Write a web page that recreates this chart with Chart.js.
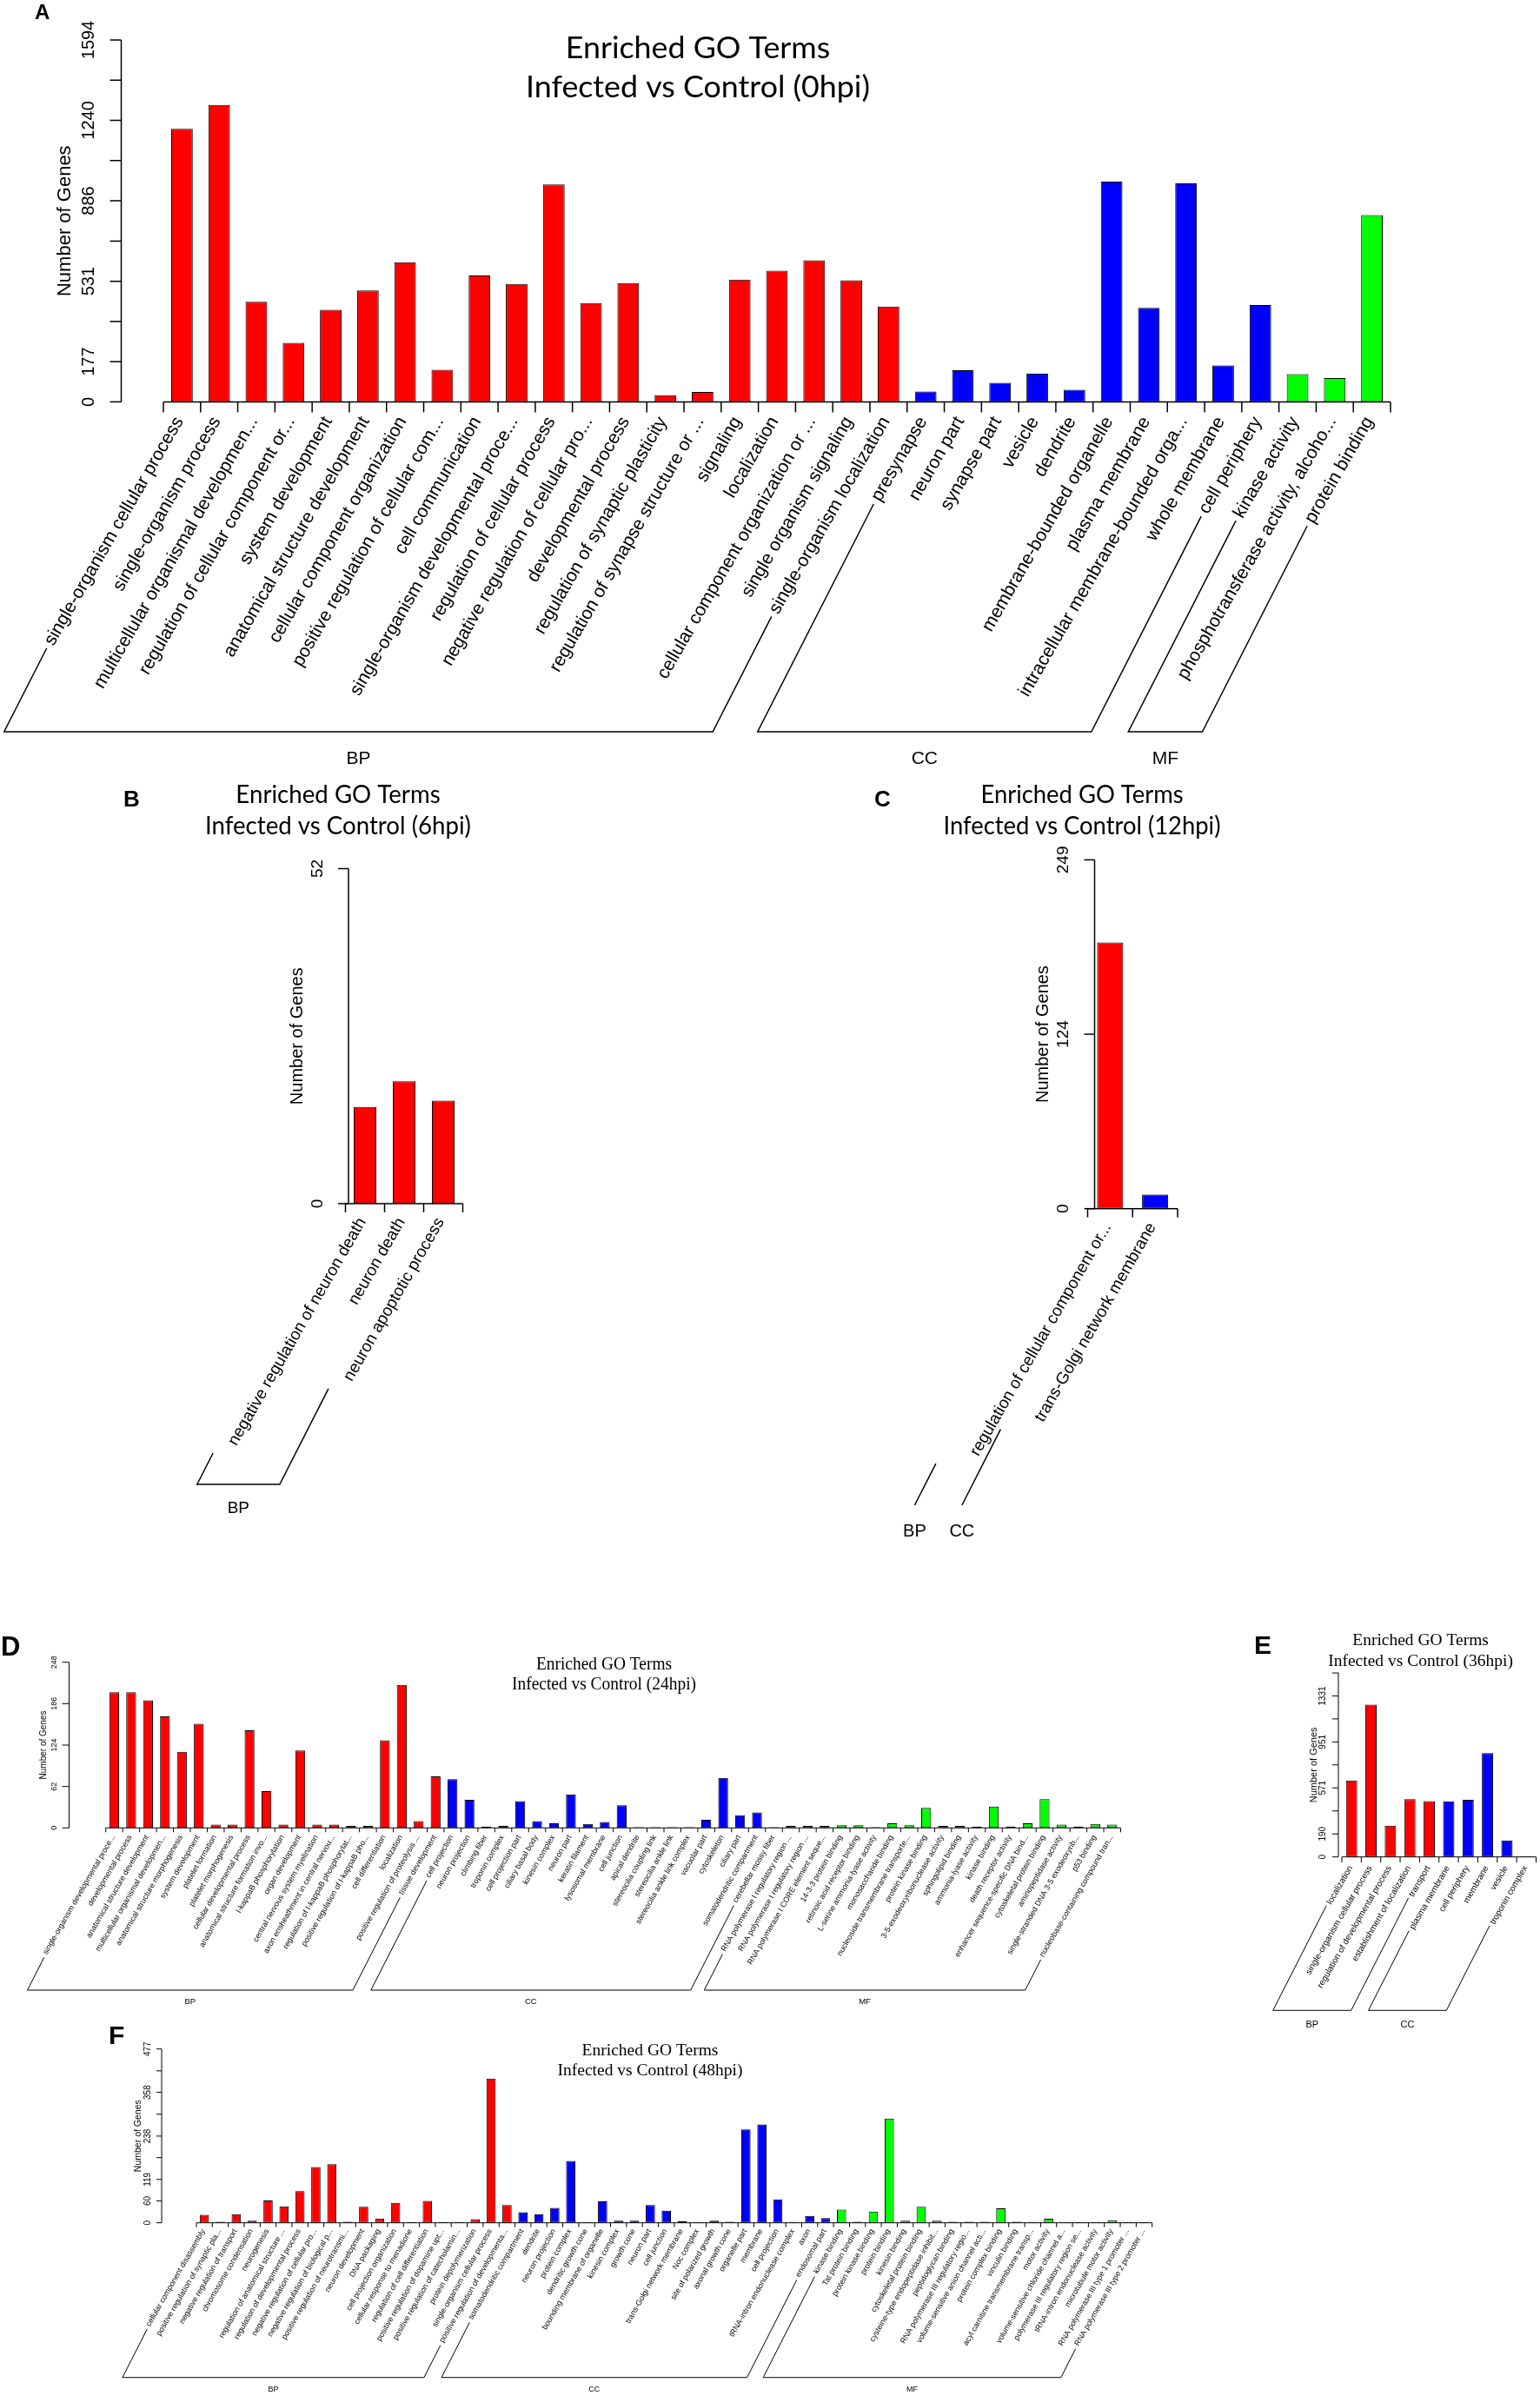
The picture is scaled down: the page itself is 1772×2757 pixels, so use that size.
<!DOCTYPE html>
<html>
<head>
<meta charset="utf-8">
<title>Enriched GO Terms - Infected vs Control</title>
<script src="https://cdn.jsdelivr.net/npm/chart.js@4.4.1/dist/chart.umd.min.js"></script>
<style>
  html, body { margin: 0; padding: 0; background: #fff; }
  #page { position: relative; width: 1772px; height: 2757px; overflow: hidden; background: #fff; }
  #page canvas { position: absolute; }
</style>
</head>
<body>
<div id="page"></div>
<script>
// DATA -
// A (0hpi)
const termsA = [
  'single-organism cellular process', 'single-organism process', 'multicellular organismal developmen...',
  'regulation of cellular component or...', 'system development', 'anatomical structure development',
  'cellular component organization', 'positive regulation of cellular com...', 'cell communication',
  'single-organism developmental proce...', 'regulation of cellular process', 'negative regulation of cellular pro...',
  'developmental process', 'regulation of synaptic plasticity', 'regulation of synapse structure or ...',
  'signaling', 'localization', 'cellular component organization or ...', 'single organism signaling',
  'single-organism localization',
  'presynapse', 'neuron part', 'synapse part', 'vesicle', 'dendrite', 'membrane-bounded organelle',
  'plasma membrane', 'intracellular membrane-bounded orga...', 'whole membrane', 'cell periphery',
  'kinase activity', 'phosphotransferase activity, alcoho...', 'protein binding'
];
const countsA = [1203, 1308, 441, 260, 405, 491, 615, 141, 557, 519, 958, 435, 523, 29, 44, 538, 578, 624, 536, 420,
  46, 139, 84, 124, 53, 970, 414, 962, 160, 426,
  122, 105, 823];
const groupsA = [['BP', 20], ['CC', 10], ['MF', 3]];
const yTicksA = [0, 177, 354, 531, 708, 886, 1063, 1240, 1417, 1594];
const yTickTextA = ['0', '177', '', '531', '', '886', '', '1240', '', '1594'];
const titleA = ['Enriched GO Terms', 'Infected vs Control (0hpi)'];

// B (6hpi)
const termsB = ['negative regulation of neuron death', 'neuron death', 'neuron apoptotic process'];
const countsB = [15, 19, 16];
const groupsB = [['BP', 3]];
const yTicksB = [0, 52];
const yTickTextB = ['0', '52'];
const titleB = ['Enriched GO Terms', 'Infected vs Control (6hpi)'];

// C (12hpi)
const termsC = ['regulation of cellular component or...', 'trans-Golgi network membrane'];
const countsC = [190, 10];
const groupsC = [['BP', 1], ['CC', 1]];
const yTicksC = [0, 124.5, 249];
const yTickTextC = ['0', '124', '249'];
const titleC = ['Enriched GO Terms', 'Infected vs Control (12hpi)'];

// D (24hpi)
const termsD = [
  'single-organism developmental proce...', 'developmental process', 'anatomical structure development',
  'multicellular organismal developmen...', 'anatomical structure morphogenesis', 'system development',
  'platelet formation', 'platelet morphogenesis', 'cellular developmental process',
  'anatomical structure formation invo...', 'I-kappaB phosphorylation', 'organ development',
  'central nervous system myelination', 'axon ensheathment in central nervou...',
  'regulation of I-kappaB phosphorylat...', 'positive regulation of I-kappaB pho...', 'cell differentiation',
  'localization', 'positive regulation of proteolysis ...', 'tissue development',
  'cell projection', 'neuron projection', 'climbing fiber', 'troponin complex', 'cell projection part',
  'ciliary basal body', 'kinesin complex', 'neuron part', 'keratin filament', 'lysosomal membrane',
  'cell junction', 'apical dendrite', 'stereocilia coupling link', 'stereocilia ankle link',
  'stereocilia ankle link complex', 'vacuolar part', 'cytoskeleton', 'ciliary part',
  'somatodendritic compartment', 'cerebellar mossy fiber',
  'RNA polymerase I regulatory region ...', 'RNA polymerase I regulatory region ...',
  'RNA polymerase I CORE element seque...', '14-3-3 protein binding', 'retinoic acid receptor binding',
  'L-serine ammonia-lyase activity', 'monosaccharide binding', 'nucleoside transmembrane transporte...',
  'protein kinase binding', '3-5-exodeoxyribonuclease activity', 'sphingolipid binding',
  'ammonia-lyase activity', 'kinase binding', 'death receptor activity',
  'enhancer sequence-specific DNA bind...', 'cytoskeletal protein binding', 'aminopeptidase activity',
  'single-stranded DNA 3-5 exodeoxyrib...', 'p53 binding', 'nucleobase-containing compound tran...'
];
const countsD = [203, 203, 191, 167, 114, 156, 5, 5, 146, 55, 5, 116, 5, 5, 3, 3, 131, 214, 10, 77,
  73, 42, 2, 3, 40, 10, 7, 50, 6, 9, 34, 1, 1, 1, 1, 12, 75, 19, 23, 1,
  3, 3, 3, 4, 4, 1, 7, 4, 30, 3, 3, 2, 32, 2, 7, 43, 5, 2, 6, 5];
const groupsD = [['BP', 20], ['CC', 20], ['MF', 20]];
const yTicksD = [0, 62, 124, 186, 248];
const yTickTextD = ['0', '62', '124', '186', '248'];
const titleD = ['Enriched GO Terms', 'Infected vs Control (24hpi)'];

// E (36hpi)
const termsE = ['localization', 'single-organism cellular process', 'regulation of developmental process',
  'establishment of localization', 'transport',
  'plasma membrane', 'cell periphery', 'membrane', 'vesicle', 'troponin complex'];
const countsE = [632, 1258, 259, 477, 462, 460, 472, 858, 137, 7];
const groupsE = [['BP', 5], ['CC', 5]];
const yTicksE = [0, 190, 380, 571, 761, 951, 1141, 1331, 1521];
const yTickTextE = ['0', '190', '', '571', '', '951', '', '1331', ''];
const titleE = ['Enriched GO Terms', 'Infected vs Control (36hpi)'];

// F (48hpi)
const termsF = [
  'cellular component disassembly', 'positive regulation of synaptic pla...', 'negative regulation of transport',
  'chromosome condensation', 'neurogenesis', 'regulation of anatomical structure ...',
  'regulation of developmental process', 'negative regulation of cellular pro...',
  'negative regulation of biological p...', 'positive regulation of neurotransmi...', 'neuron development',
  'DNA packaging', 'cell projection organization', 'cellular response to menadione',
  'regulation of cell differentiation', 'positive regulation of dopamine upt...',
  'positive regulation of catecholamin...', 'protein depolymerization', 'single-organism cellular process',
  'positive regulation of developmenta...',
  'somatodendritic compartment', 'dendrite', 'neuron projection', 'protein complex', 'dendritic growth cone',
  'bounding membrane of organelle', 'kinesin complex', 'growth cone', 'neuron part', 'cell junction',
  'trans-Golgi network membrane', 'Noc complex', 'site of polarized growth', 'axonal growth cone',
  'organelle part', 'membrane', 'cell projection', 'tRNA-intron endonuclease complex', 'axon', 'endosomal part',
  'kinase binding', 'Tat protein binding', 'protein kinase binding', 'protein binding', 'kinesin binding',
  'cytoskeletal protein binding', 'cysteine-type endopeptidase inhibit...', 'peptidoglycan binding',
  'RNA polymerase III regulatory regio...', 'volume-sensitive anion channel acti...', 'protein complex binding',
  'vinculin binding', 'acyl carnitine transmembrane transp...', 'motor activity',
  'volume-sensitive chloride channel a...', 'polymerase III regulatory region se...',
  'tRNA-intron endonuclease activity', 'microtubule motor activity',
  'RNA polymerase III type 1 promoter ...', 'RNA polymerase III type 2 promoter ...'
];
const countsF = [22, 3, 24, 6, 61, 45, 87, 153, 161, 3, 44, 12, 55, 2, 60, 2, 2, 10, 396, 49,
  29, 24, 41, 170, 2, 59, 6, 6, 49, 33, 4, 2, 6, 3, 256, 270, 64, 2, 19, 13,
  36, 3, 31, 286, 6, 44, 6, 3, 3, 3, 40, 3, 2, 11, 2, 2, 2, 7, 2, 2];
const groupsF = [['BP', 20], ['CC', 20], ['MF', 20]];
const yTicksF = [0, 60, 119, 179, 238, 298, 358, 417, 477];
const yTickTextF = ['0', '60', '119', '', '238', '', '358', '', '477'];
const titleF = ['Enriched GO Terms', 'Infected vs Control (48hpi)'];

const ontologyColors = { BP: '#ff0000', CC: '#0000ff', MF: '#00ff00' };
const yAxisTitle = 'Number of Genes';
// DATA |

// LAYOUT - page pixels
const SANS = '"Liberation Sans", Arial, sans-serif';
const TITLE_SANS = 'Lato, "Open Sans", sans-serif';
const SERIF = '"Liberation Serif", "Times New Roman", serif';

const panels = [
  { letter: 'A', terms: termsA, counts: countsA, groups: groupsA, ticks: yTicksA, tickText: yTickTextA, title: titleA,
    box: { x: 0, y: 0, w: 1772, h: 900 }, area: { l: 188, r: 1600, t: 46, b: 462.4 },
    yAxisX: 139.5, tickLabX: 102, yTitleX: 75, tickFont: 20, yTitleFont: 22, labFont: 21,
    tickLenY: 13, tickLenX: 12, labDx: -3, labDy: 19, lw: 1.5,
    bracketY: 842, groupY: 873, groupFont: 21, bracketOff: [0, 0],
    titleFont: '34px ' + TITLE_SANS, titleX: 803, titleBase: [67, 112], titleWidth: 396,
    letterX: 40, letterY: 22, letterFont: 24 },
  { letter: 'B', terms: termsB, counts: countsB, groups: groupsB, ticks: yTicksB, tickText: yTickTextB, title: titleB,
    box: { x: 100, y: 880, w: 600, h: 900 }, area: { l: 397.5, r: 532.5, t: 999.5, b: 1385 },
    yAxisX: 401, tickLabX: 366, yTitleX: 342, tickFont: 19, yTitleFont: 20, labFont: 19,
    tickLenY: 12, tickLenX: 10, labDx: -3, labDy: 18, lw: 1.5,
    bracketY: 1708, groupY: 1736, groupFont: 19, bracketOff: [-20, 6],
    titleFont: '28px ' + TITLE_SANS, titleX: 389, titleBase: [924, 960], titleWidth: 306,
    letterX: 142, letterY: 928, letterFont: 26 },
  { letter: 'C', terms: termsC, counts: countsC, groups: groupsC, ticks: yTicksC, tickText: yTickTextC, title: titleC,
    box: { x: 980, y: 880, w: 520, h: 900 }, area: { l: 1251.5, r: 1355, t: 989.4, b: 1390.7 },
    yAxisX: 1259.5, tickLabX: 1224, yTitleX: 1200, tickFont: 19, yTitleFont: 20, labFont: 19,
    tickLenY: 12, tickLenX: 10, labDx: -3, labDy: 18, lw: 1.5,
    bracketY: 1732, groupY: 1762, groupFont: 20, bracketOff: [-42, 6],
    titleFont: '28px ' + TITLE_SANS, titleX: 1245, titleBase: [924, 960], titleWidth: 319,
    letterX: 1006, letterY: 928, letterFont: 26 },
  { letter: 'D', terms: termsD, counts: countsD, groups: groupsD, ticks: yTicksD, tickText: yTickTextD, title: titleD,
    box: { x: 0, y: 1860, w: 1400, h: 470 }, area: { l: 121.7, r: 1289.5, t: 1912.7, b: 2103.3 },
    yAxisX: 79.5, tickLabX: 62.5, yTitleX: 50, tickFont: 9, yTitleFont: 10, labFont: 9,
    tickLenY: 8, tickLenX: 5, labDx: -1, labDy: 9, lw: 1,
    bracketY: 2290, groupY: 2303, groupFont: 9.5, bracketOff: [0, 2],
    titleFont: '20px ' + SERIF, titleX: 695, titleBase: [1920.7, 1944], titleWidth: 212,
    letterX: 1, letterY: 1905, letterFont: 31 },
  { letter: 'E', terms: termsE, counts: countsE, groups: groupsE, ticks: yTicksE, tickText: yTickTextE, title: titleE,
    box: { x: 1420, y: 1860, w: 352, h: 490 }, area: { l: 1544, r: 1767.5, t: 1925, b: 2136.7 },
    yAxisX: 1540, tickLabX: 1522.7, yTitleX: 1511.7, tickFont: 10, yTitleFont: 11, labFont: 10,
    tickLenY: 7, tickLenX: 6.5, labDx: -1, labDy: 11, lw: 1,
    bracketY: 2313.3, groupY: 2330, groupFont: 11, bracketOff: [-2, 0],
    titleFont: '19px ' + SERIF, titleX: 1634.6, titleBase: [1893.3, 1916.7], titleWidth: 212.7,
    letterX: 1443, letterY: 1903, letterFont: 30 },
  { letter: 'F', terms: termsF, counts: countsF, groups: groupsF, ticks: yTicksF, tickText: yTickTextF, title: titleF,
    box: { x: 100, y: 2320, w: 1272, h: 437 }, area: { l: 226, r: 1325.7, t: 2357.7, b: 2557.7 },
    yAxisX: 186, tickLabX: 170, yTitleX: 159.3, tickFont: 10, yTitleFont: 10.5, labFont: 9,
    tickLenY: 6, tickLenX: 5, labDx: -1, labDy: 8, lw: 1,
    bracketY: 2735.7, groupY: 2750, groupFont: 9, bracketOff: [0, 2],
    titleFont: '19px ' + SERIF, titleX: 748, titleBase: [2365, 2388.3], titleWidth: 213,
    letterX: 125, letterY: 2352, letterFont: 30 }
];
// LAYOUT |

const LABEL_ANGLE = 60 * Math.PI / 180;
const BRACKET_SLANT = Math.tan(63 * Math.PI / 180);

function barColors(groups) {
  const out = [];
  groups.forEach(([name, n]) => { for (let k = 0; k < n; k++) out.push(ontologyColors[name]); });
  return out;
}

function line(ctx, pts) {
  ctx.beginPath();
  ctx.moveTo(pts[0][0], pts[0][1]);
  for (let k = 1; k < pts.length; k++) ctx.lineTo(pts[k][0], pts[k][1]);
  ctx.stroke();
}

// draws the R-style axes, rotated labels, GO brackets and titles
function rStylePlugin(p) {
  return {
    id: 'rStyle' + p.letter,
    afterDraw(chart) {
      const ctx = chart.ctx;
      const xs = chart.scales.x, ys = chart.scales.y;
      const X = i => xs.getPixelForValue(i) + p.box.x;
      const Y = v => ys.getPixelForValue(v) + p.box.y;
      const n = p.terms.length;
      const step = X(1) - X(0);
      const y0 = Y(0);

      ctx.save();
      ctx.translate(-p.box.x, -p.box.y);
      ctx.strokeStyle = '#000';
      ctx.fillStyle = '#000';
      ctx.lineWidth = p.lw;

      // y axis
      line(ctx, [[p.yAxisX, Y(p.ticks[p.ticks.length - 1])], [p.yAxisX, y0]]);
      ctx.font = p.tickFont + 'px ' + SANS;
      ctx.textAlign = 'center';
      ctx.textBaseline = 'middle';
      p.ticks.forEach((v, k) => {
        line(ctx, [[p.yAxisX - p.tickLenY, Y(v)], [p.yAxisX, Y(v)]]);
        if (!p.tickText[k]) return;
        ctx.save();
        ctx.translate(p.tickLabX, Y(v));
        ctx.rotate(-Math.PI / 2);
        ctx.fillText(p.tickText[k], 0, 0);
        ctx.restore();
      });
      ctx.font = p.yTitleFont + 'px ' + SANS;
      ctx.save();
      ctx.translate(p.yTitleX, (Y(p.ticks[p.ticks.length - 1]) + y0) / 2);
      ctx.rotate(-Math.PI / 2);
      ctx.fillText(yAxisTitle, 0, 0);
      ctx.restore();

      // x axis with ticks between bars
      const left = X(0) - step / 2;
      line(ctx, [[left, y0], [left + step * n, y0]]);
      for (let i = 0; i <= n; i++) {
        const bx = left + step * i;
        line(ctx, [[bx, y0], [bx, y0 + p.tickLenX]]);
      }

      // rotated term labels
      ctx.font = p.labFont + 'px ' + SANS;
      ctx.textAlign = 'right';
      ctx.textBaseline = 'middle';
      const starts = p.terms.map((t, i) => {
        const ax = X(i) + p.labDx, ay = y0 + p.labDy;
        ctx.save();
        ctx.translate(ax, ay);
        ctx.rotate(-LABEL_ANGLE);
        ctx.fillText(t, 0, 0);
        ctx.restore();
        const L = ctx.measureText(t).width + p.labFont * 0.25;
        return [ax - L * Math.cos(LABEL_ANGLE) + p.bracketOff[0], ay + L * Math.sin(LABEL_ANGLE) + p.bracketOff[1]];
      });

      // ontology brackets
      ctx.font = p.groupFont + 'px ' + SANS;
      ctx.textAlign = 'center';
      let i0 = 0;
      p.groups.forEach(([name, cnt]) => {
        const tl = starts[i0], tr = starts[i0 + cnt - 1];
        const bl = [tl[0] - (p.bracketY - tl[1]) / BRACKET_SLANT, p.bracketY];
        const br = [tr[0] - (p.bracketY - tr[1]) / BRACKET_SLANT, p.bracketY];
        line(ctx, [tl, bl, br, tr]);
        ctx.fillText(name, (bl[0] + br[0]) / 2, p.groupY);
        i0 += cnt;
      });

      // title, squeezed to the measured width of the reference
      ctx.font = p.titleFont;
      ctx.textBaseline = 'alphabetic';
      const sx = p.titleWidth / ctx.measureText(p.title[1]).width;
      p.title.forEach((txt, k) => {
        ctx.save();
        ctx.translate(p.titleX, p.titleBase[k]);
        ctx.scale(sx, 1);
        ctx.fillText(txt, 0, 0);
        ctx.restore();
      });

      // panel letter
      ctx.font = 'bold ' + p.letterFont + 'px ' + SANS;
      ctx.textAlign = 'left';
      ctx.fillText(p.letter, p.letterX, p.letterY);

      ctx.restore();
    }
  };
}

const page = document.getElementById('page');
panels.forEach(p => {
  const c = document.createElement('canvas');
  c.width = p.box.w;
  c.height = p.box.h;
  c.style.left = p.box.x + 'px';
  c.style.top = p.box.y + 'px';
  c.style.width = p.box.w + 'px';
  c.style.height = p.box.h + 'px';
  page.appendChild(c);

  new Chart(c, {
    type: 'bar',
    data: {
      labels: p.terms,
      datasets: [{
        data: p.counts,
        backgroundColor: barColors(p.groups),
        borderColor: '#000',
        borderWidth: 1,
        borderSkipped: false,
        barPercentage: 0.58,
        categoryPercentage: 1
      }]
    },
    options: {
      responsive: false,
      animation: false,
      events: [],
      layout: {
        padding: {
          left: p.area.l - p.box.x,
          right: p.box.x + p.box.w - p.area.r,
          top: p.area.t - p.box.y,
          bottom: p.box.y + p.box.h - p.area.b
        }
      },
      plugins: { legend: { display: false }, tooltip: { enabled: false }, title: { display: false } },
      scales: {
        x: { display: false, offset: true },
        y: { display: false, min: 0, max: p.ticks[p.ticks.length - 1] }
      }
    },
    plugins: [rStylePlugin(p)]
  });
});
</script>
</body>
</html>
